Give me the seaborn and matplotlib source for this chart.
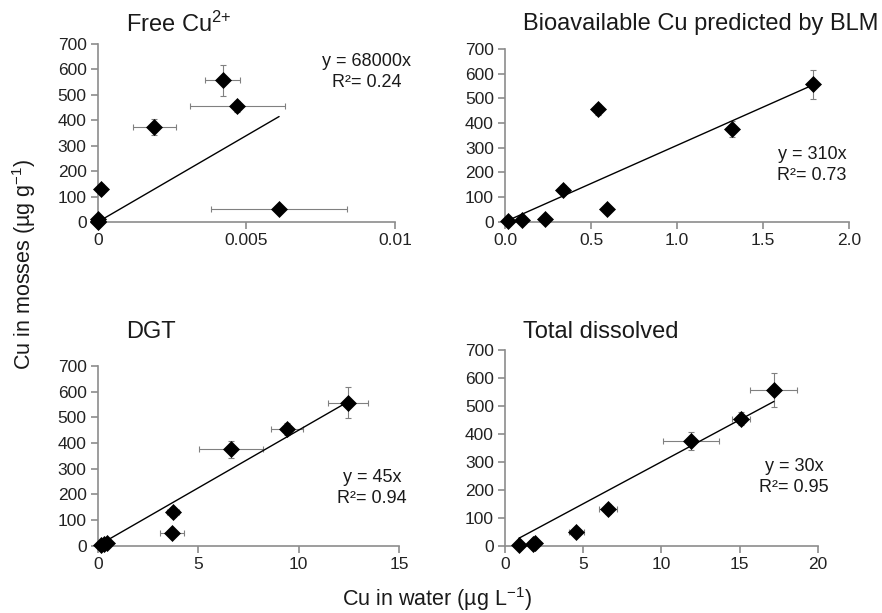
import numpy as np
import pandas as pd
import matplotlib
matplotlib.use("Agg")
import matplotlib.pyplot as plt
import seaborn as sns

# ---------------- data ----------------
moss = [557, 455, 375, 130, 50, 10, 5, 2]
moss_err = [60, 22, 32, 18, 6, 0, 0, 0]

free_cu = [0.0042, 0.0047, 0.0019, 0.0001, 0.0061, 0.0, 0.0, 0.0]
free_cu_err = [0.00058, 0.0016, 0.00073, 0.0, 0.0023, 0.0, 0.0, 0.0]

blm = [1.79, 0.54, 1.32, 0.335, 0.59, 0.23, 0.10, 0.02]
blm_err = [0, 0, 0, 0, 0, 0, 0, 0]

dgt = [12.44, 9.43, 6.65, 3.76, 3.70, 0.48, 0.30, 0.15]
dgt_err = [1.0, 0.8, 1.6, 0.3, 0.6, 0, 0, 0]

total = [17.2, 15.1, 11.88, 6.58, 4.57, 1.92, 1.80, 0.88]
total_err = [1.5, 0.6, 1.8, 0.6, 0.45, 0, 0, 0]

titles = ["Free Cu$^{2{+}}$", "Bioavailable Cu predicted by BLM", "DGT", "Total dissolved"]
slopes = [68000, 310, 45, 30]
eq_labels = ["y = 68000x\nR²= 0.24", "y = 310x\nR²= 0.73",
             "y = 45x\nR²= 0.94", "y = 30x\nR²= 0.95"]

xticks_free = [0, 0.005, 0.01]
xticklabels_free = ["0", "0.005", "0.01"]
xticks_blm = [0.0, 0.5, 1.0, 1.5, 2.0]
xticklabels_blm = ["0.0", "0.5", "1.0", "1.5", "2.0"]
xticks_dgt = [0, 5, 10, 15]
xticklabels_dgt = ["0", "5", "10", "15"]
xticks_total = [0, 5, 10, 15, 20]
xticklabels_total = ["0", "5", "10", "15", "20"]
yticks = [0, 100, 200, 300, 400, 500, 600, 700]

# ---------------- style ----------------
sns.set_style("ticks")
plt.rcParams['font.family'] = ['Liberation Sans', 'DejaVu Sans']
plt.rcParams['mathtext.fontset'] = 'custom'
plt.rcParams['mathtext.rm'] = 'Liberation Sans'
plt.rcParams['mathtext.it'] = 'Liberation Sans:italic'
plt.rcParams['mathtext.bf'] = 'Liberation Sans:bold'

spine_col = '#8c8c8c'
err_col = '#808080'
text_col = '#1a1a1a'

fig = plt.figure(figsize=(8.82, 6.13), dpi=100)

rects = [
    [0.1108, 0.6378, 0.3371, 0.2904],
    [0.5726, 0.6383, 0.3904, 0.2817],
    [0.1108, 0.1098, 0.3416, 0.2931],
    [0.5726, 0.1098, 0.3545, 0.3192],
]
panels = [
    (free_cu, free_cu_err, xticks_free, xticklabels_free),
    (blm, blm_err, xticks_blm, xticklabels_blm),
    (dgt, dgt_err, xticks_dgt, xticklabels_dgt),
    (total, total_err, xticks_total, xticklabels_total),
]
title_pos = [(0.095, 1.067), (0.052, 1.11), (0.094, 1.156), (0.058, 1.061)]
eq_pos = [(0.905, 0.845), (0.892, 0.331), (0.910, 0.321), (0.924, 0.349)]

for i, (rect, (xs, xerr, xt, xtl)) in enumerate(zip(rects, panels)):
    ax = fig.add_axes(rect)
    xs = np.asarray(xs, dtype=float)
    df = pd.DataFrame({'x': xs, 'y': moss})

    ax.errorbar(xs, moss, xerr=xerr, yerr=moss_err, fmt='none',
                ecolor=err_col, elinewidth=0.8, capsize=2.5, capthick=0.8,
                zorder=2)

    xl = np.array([xs.min(), xs.max()])
    sns.lineplot(x=xl, y=slopes[i] * xl, ax=ax, color='black', lw=1.0,
                 zorder=2.5)

    sns.scatterplot(data=df, x='x', y='y', marker='D', s=66, color='black',
                    edgecolor='black', linewidth=0.5, ax=ax, zorder=3,
                    clip_on=False, legend=False)

    ax.set_xlim(xt[0], xt[-1])
    ax.set_ylim(0, 700)
    ax.set_xticks(xt)
    ax.set_xticklabels(xtl)
    ax.set_yticks(yticks)
    ax.set_xlabel('')
    ax.set_ylabel('')

    for s in ['top', 'right']:
        ax.spines[s].set_visible(False)
    for s in ['left', 'bottom']:
        ax.spines[s].set_color(spine_col)
        ax.spines[s].set_linewidth(1.2)
    ax.tick_params(axis='both', direction='out', length=5, width=1.2,
                   color=spine_col, labelcolor='#222222', labelsize=12.5,
                   pad=3)

    ax.text(title_pos[i][0], title_pos[i][1], titles[i], transform=ax.transAxes,
            ha='left', va='baseline', fontsize=17, color=text_col)
    ax.text(eq_pos[i][0], eq_pos[i][1], eq_labels[i], transform=ax.transAxes,
            ha='center', va='center', fontsize=13, color=text_col,
            linespacing=1.3, multialignment='center')

fig.text(0.027, 0.569, 'Cu in mosses (µg g$^{-1}$)', rotation=90,
         ha='center', va='center', fontsize=15.5, color=text_col)
fig.text(0.495, 0.022, 'Cu in water (µg L$^{-1}$)', ha='center', va='center',
         fontsize=15.5, color=text_col)

fig.savefig('out.png', dpi=100)
